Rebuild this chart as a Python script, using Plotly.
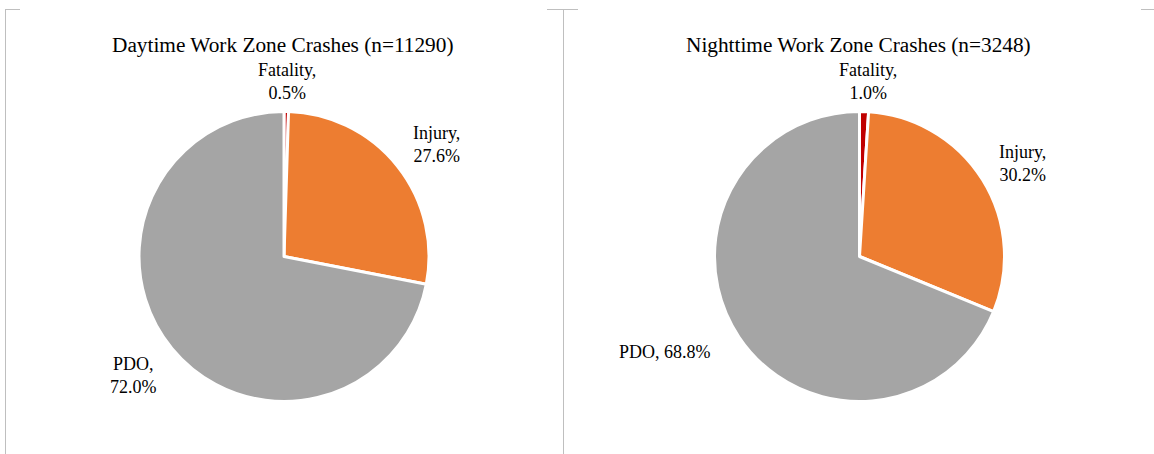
import plotly.graph_objects as go

W, H = 1154, 454

categories = ["Fatality", "Injury", "PDO"]
day_values = [0.5, 27.6, 72.0]
night_values = [1.0, 30.2, 68.8]
day_title = "Daytime Work Zone Crashes (n=11290)"
night_title = "Nighttime Work Zone Crashes (n=3248)"
colors = ["#C00000", "#ED7D31", "#A5A5A5"]

FONT = "Liberation Serif, Times New Roman, serif"


def px_x(x):
    return x / W


def px_y(y):
    return 1 - y / H


def domain(cx, cy, r):
    return dict(x=[px_x(cx - r), px_x(cx + r)], y=[px_y(cy + r), px_y(cy - r)])


fig = go.Figure()
for vals, (cx, cy) in [(day_values, (284, 256.5)), (night_values, (859.5, 256.5))]:
    fig.add_trace(go.Pie(
        labels=categories, values=vals, sort=False, direction="clockwise", rotation=0,
        marker=dict(colors=colors, line=dict(color="white", width=3)),
        textinfo="none", hoverinfo="label+percent", showlegend=False,
        domain=domain(cx, cy, 145),
    ))

annotations = []
for title, cx in [(day_title, 283), (night_title, 858)]:
    annotations.append(dict(text=title, x=px_x(cx), y=px_y(45), xref="paper", yref="paper",
                            showarrow=False, xanchor="center", yanchor="middle",
                            font=dict(family=FONT, size=21.3, color="#000000")))

# label positions (pixel centers) and whether two-line
day_pos = [(287, 82, True), (436, 144, True), (133, 375, True)]
night_pos = [(868, 82, True), (1022, 163, True), (664.5, 352, False)]
for vals, pos in [(day_values, day_pos), (night_values, night_pos)]:
    for cat, v, (x, y, two) in zip(categories, vals, pos):
        sep = ",<br>" if two else ", "
        annotations.append(dict(text=f"{cat}{sep}{v:.1f}%", x=px_x(x), y=px_y(y),
                                xref="paper", yref="paper", showarrow=False,
                                xanchor="center", yanchor="middle", align="center",
                                font=dict(family=FONT, size=18, color="#000000")))

line_col = "#BFBFBF"
segs = [
    (5.5, 9.5, 5.5, 454), (5, 9.5, 20, 9.5),
    (547, 9.5, 578, 9.5), (563.5, 9.5, 563.5, 454),
    (1141, 9.5, 1154, 9.5),
]
shapes = [dict(type="line", xref="paper", yref="paper", x0=px_x(a), y0=px_y(b), x1=px_x(c), y1=px_y(d),
               line=dict(color=line_col, width=1)) for a, b, c, d in segs]

fig.update_layout(width=W, height=H, autosize=False, margin=dict(l=0, r=0, t=0, b=0),
                  paper_bgcolor="white", plot_bgcolor="white",
                  annotations=annotations, shapes=shapes)
fig.write_html("out.html", config={"displayModeBar": False},
               post_script="document.body.style.margin='0px';")
